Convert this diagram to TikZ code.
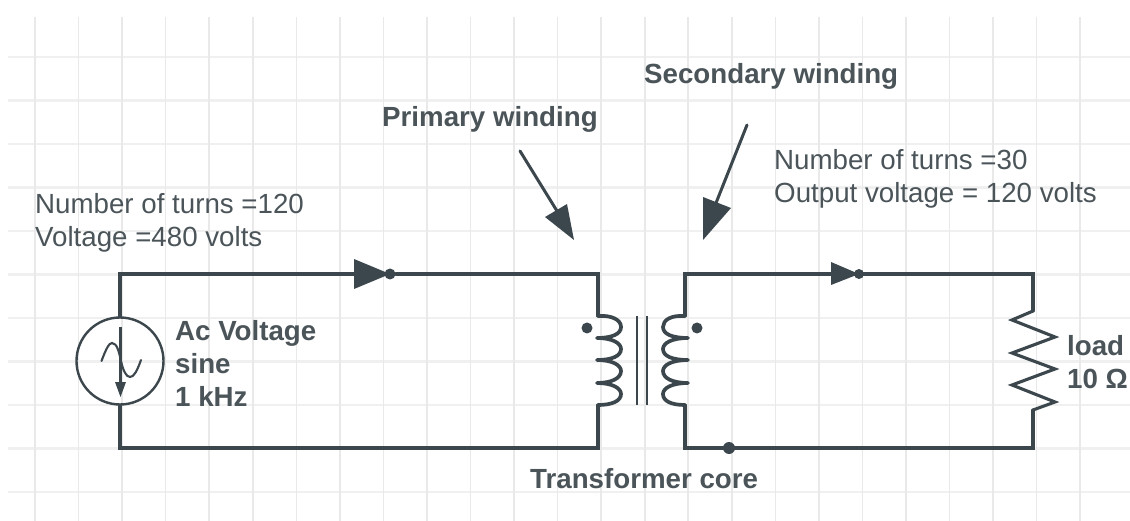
\documentclass[tikz,border=0pt]{standalone}
\usepackage{fontspec}
\setmainfont{Liberation Sans}
\definecolor{wire}{HTML}{3C474D}
\definecolor{txt}{HTML}{4A5459}
\definecolor{gridv}{HTML}{E9E9E9}
\definecolor{gridh}{HTML}{F0F0F0}
\tikzset{
  wireline/.style={draw=wire,line width=3.1pt,line cap=round,line join=miter},
  coilline/.style={draw=wire,line width=3.7pt,line cap=round,line join=round},
  thinwire/.style={draw=wire,line width=2.1pt,line join=miter},
  junction/.style={circle,fill=wire,inner sep=0pt,minimum size=#1},
  headtip/.style={fill=wire,draw=none},
  plain/.style={text=txt,font=\fontsize{27.7}{33}\selectfont,align=left,anchor=north west,inner sep=0pt},
  heavy/.style={text=txt,font=\fontsize{27.7}{33}\selectfont\bfseries,align=left,anchor=north west,inner sep=0pt}
}
\begin{document}
\begin{tikzpicture}[x=1pt,y=-1pt]
\useasboundingbox (0,0) rectangle (1130,521);
\fill[white] (0,0) rectangle (1130,521);
\foreach \i in {0,...,10} \draw[gridh,line width=2.6pt] (8,57+43.5*\i) -- (1130,57+43.5*\i);
\foreach \i in {0,...,24} \draw[gridv,line width=1.6pt] (35+43.55*\i,17) -- (35+43.55*\i,521);

% anchors
\coordinate (tl) at (120,274); \coordinate (bl) at (120,448);
\coordinate (ptop) at (598,274); \coordinate (pbot) at (598,448);
\coordinate (pc1) at (598,316); \coordinate (pc2) at (598,405);
\coordinate (stop) at (685,274); \coordinate (sbot) at (685,448);
\coordinate (sc1) at (685,316); \coordinate (sc2) at (685,405);
\coordinate (rtop) at (1033,274); \coordinate (rbot) at (1033,448);
\coordinate (r1) at (1033,311); \coordinate (r2) at (1033,410);
\node[circle,draw=wire,line width=2.4pt,minimum size=87pt,inner sep=0pt] (src) at (120,361) {};
\node[junction=11pt] (d1) at (390,274) {};
\node[junction=10pt] (d2) at (859,274) {};
\node[junction=12pt] (d3) at (729,448) {};
\node[junction=11pt] (pdot) at (587,328) {};
\node[junction=11pt] (sdot) at (697,328) {};

% wires
\draw[wireline] (src.north) -- (tl) -- (d1) -- (ptop) -- (pc1);
\draw[wireline] (src.south) -- (bl) -- (pbot) -- (pc2);
\draw[wireline] (sc1) -- (stop) -- (rtop) -- (r1);
\draw[wireline] (sc2) -- (sbot) -- (rbot) -- (r2);
\draw[draw=wire,line width=3.8pt] (275,274) -- (356,274);
\draw[draw=wire,line width=3.8pt] (772,274) -- (833,274);
\coordinate (a1) at (354,259); \coordinate (a2) at (354,289); \coordinate (a3) at (390,274);
\fill[headtip] (a1) -- (a3) -- (a2) -- cycle;
\coordinate (b1) at (831,262); \coordinate (b2) at (831,285); \coordinate (b3) at (859,274);
\fill[headtip] (b1) -- (b3) -- (b2) -- cycle;

% source glyph
\coordinate (sa) at (120.5,327); \coordinate (sb) at (120.5,395);
\draw[thinwire] (sa) -- (120.5,385);
\fill[headtip] (115,382) -- (120.5,397) -- (126,382) -- cycle;
\draw[thinwire,line cap=round] (101.5,361) .. controls (106,349) and (109,343) .. (112,343) .. controls (117,343) and (119,352) .. (121,361) .. controls (123,370) and (126,377) .. (130,377) .. controls (134,377) and (137,371) .. (141,360);

% primary coil
\draw[coilline] (pc1) .. controls (612,315) and (621,320) .. (621,327) .. controls (621,334) and (612,338) .. (597,338)
  .. controls (612,338) and (621,343) .. (621,349) .. controls (621,356) and (612,360) .. (597,360)
  .. controls (612,360) and (621,365) .. (621,371) .. controls (621,378) and (612,383) .. (597,383)
  .. controls (612,383) and (621,388) .. (621,394) .. controls (621,401) and (612,405) .. (pc2);
% core
\coordinate (c1) at (637,316); \coordinate (c2) at (637,405); \coordinate (c3) at (647,316); \coordinate (c4) at (647,405);
\draw[draw=wire,line width=2.4pt] (c1) -- (c2) (c3) -- (c4);
% secondary coil
\draw[coilline] (sc1) .. controls (671,315) and (663,320) .. (663,327) .. controls (663,334) and (672,338) .. (688,338)
  .. controls (672,338) and (663,343) .. (663,349) .. controls (663,356) and (672,360) .. (688,360)
  .. controls (672,360) and (663,365) .. (663,371) .. controls (663,378) and (672,383) .. (688,383)
  .. controls (672,383) and (663,388) .. (663,394) .. controls (663,401) and (671,405) .. (sc2);
% resistor
\draw[wireline,line cap=butt] (r1) -- (1012,320) -- (1055,337) -- (1012,353) -- (1055,369) -- (1012,385) -- (1055,402) -- (r2);

% callout arrows
\coordinate (p1) at (520,151); \coordinate (p2) at (574,240);
\coordinate (q1) at (747,125); \coordinate (q2) at (703,240);
\draw[draw=wire,line width=3pt,line cap=round] (p1) -- (557,211);
\fill[headtip] (p2) -- (545,217) -- (567,204) -- cycle;
\draw[draw=wire,line width=3pt,line cap=round] (q1) -- (716,203);
\fill[headtip] (q2) -- (703,197) -- (731,208) -- cycle;

% labels
\node[heavy] (tp) at (382,106) {Primary winding};
\node[heavy] (ts) at (644,63) {Secondary winding};
\node[heavy] (tc) at (530,468) {Transformer core};
\node[plain] (n1) at (35,193) {Number of turns =120\\Voltage =480 volts};
\node[plain] (n2) at (774,149) {Number of turns =30\\Output voltage = 120 volts};
\node[heavy] (n3) at (175,320) {Ac Voltage\\sine\\1 kHz};
\node[heavy] (n4) at (1067,335) {load\\10 Ω};
\end{tikzpicture}
\end{document}
